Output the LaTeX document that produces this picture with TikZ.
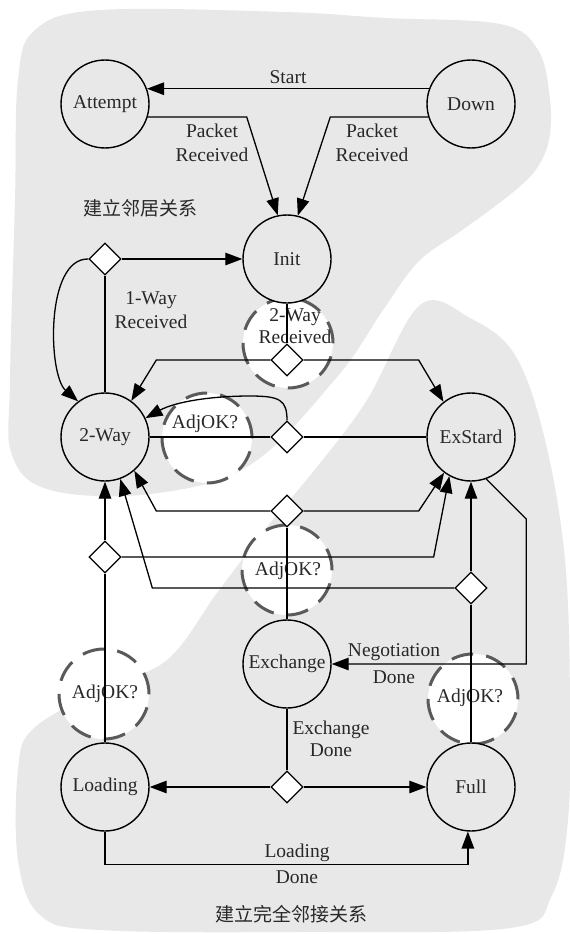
\documentclass[tikz,border=0pt]{standalone}
\usepackage{fontspec}
\setmainfont{Liberation Serif}
\newfontfamily\cjkfont{Noto Sans CJK SC}
\usetikzlibrary{shapes.geometric,arrows.meta}
\definecolor{blob}{RGB}{232,232,232}
\definecolor{txt}{RGB}{40,40,40}
\definecolor{dashc}{RGB}{90,90,90}
\begin{document}
\begin{tikzpicture}[x=1pt,y=-1pt,
  state/.style={circle,draw=black,line width=1.4pt,fill=blob,minimum size=88pt,inner sep=0pt,font=\fontsize{19.5}{24}\selectfont,text=txt},
  dia/.style={diamond,draw=black,line width=1.3pt,fill=white,minimum width=32pt,minimum height=32pt,inner sep=0pt},
  dcirc/.style={circle,draw=dashc,line width=3pt,fill=white,minimum size=90pt,inner sep=0pt,dash pattern=on 22pt off 13.3pt},
  lbl/.style={font=\fontsize{19.5}{24}\selectfont,text=txt,align=center,inner sep=0pt},
  cjk/.style={font=\cjkfont\fontsize{19}{24}\selectfont,text=txt,inner sep=0pt},
  conn/.style={line width=1.3pt,draw=black},
  arr/.style={conn,-{Triangle[length=17pt,width=12.5pt]}},
]
\useasboundingbox (0,0) rectangle (570,934);
\fill[white] (0,0) rectangle (570,934);
% background regions
\fill[blob] plot[smooth cycle,tension=0.6] coordinates {(35,30) (100,10) (285,12) (385,18) (500,24) (538,50) (550,100) (549,140) (537,168) (518,188) (490,210) (458,233) (418,262) (383,310) (337,377) (250,465) (150,494) (50,490) (12,455) (10,380) (15,200) (18,80)};
\fill[blob] plot[smooth cycle,tension=0.6] coordinates {(420,305) (470,318) (515,355) (545,440) (565,560) (570,700) (568,820) (552,895) (510,928) (300,932) (100,930) (40,915) (18,860) (18,770) (33,729) (100,690) (167,660) (217,593) (267,527) (317,467) (367,400)};
% dashed highlight circles
\node[dcirc] (c1) at (288,343) {};
\node[dcirc] (c2) at (207,438) {};
\node[dcirc] (c3) at (287,570) {};
\node[dcirc] (c4) at (104,694) {};
\node[dcirc] (c5) at (473,699) {};
% labels
\node[lbl] (lstart) at (288,77) {Start};
\node[lbl] (lpr1) at (212,143) {Packet\\Received};
\node[lbl] (lpr2) at (372,143) {Packet\\Received};
\node[cjk] (lzone1) at (140,208) {建立邻居关系};
\node[lbl] (l1way) at (151,310) {1-Way\\Received};
\node[lbl] (l2way) at (295,326) {2-Way\\[-2pt]Received};
\node[lbl] (ladj1) at (205,424) {AdjOK?};
\node[lbl] (ladj2) at (288,571) {AdjOK?};
\node[lbl] (ladj3) at (105,694) {AdjOK?};
\node[lbl] (ladj4) at (470,698) {AdjOK?};
\node[lbl] (lneg) at (394,664) {Negotiation\\[3pt]Done};
\node[lbl] (lexd) at (331,739) {Exchange\\[-2pt]Done};
\node[lbl] (lld) at (297,864) {Loading\\[2pt]Done};
\node[cjk] (lzone2) at (291,914) {建立完全邻接关系};
% states
\node[state] (attempt) at (105,104) {Attempt};
\node[state] (down) at (471,104) {Down};
\node[state] (init) at (287,259) {Init};
\node[state] (twoway) at (105,437) {2-Way};
\node[state] (exstart) at (471,437) {ExStard};
\node[state] (exchange) at (287,664) {Exchange};
\node[state] (loading) at (105,787) {Loading};
\node[state] (full) at (471,787) {Full};
% decision diamonds
\node[dia] (d1) at (105,259) {};
\node[dia] (d2) at (287,360) {};
\node[dia] (d3) at (287,437) {};
\node[dia] (d4) at (287,511) {};
\node[dia] (d5) at (105,557) {};
\node[dia] (d6) at (471,588) {};
\node[dia] (d7) at (287,787) {};
% connectors
\draw[arr] (down.160) -- (attempt.20);
\draw[arr] (attempt.-17) -- ++(99,0) -- (init.102);
\draw[arr] (down.197) -- ++(-98,0) -- (init.76);
\draw[arr] (d1.east) -- (init.west);
\draw[arr] (d1.west) .. controls (45,258) and (48,375) .. (twoway.127);
\draw[conn] (twoway.north) -- (d1.south);
\draw[conn] (init.south) -- (d2.north);
\draw[arr] (d2.west) -- ++(-114,0) -- (twoway.54);
\draw[arr] (d2.east) -- ++(115,0) -- (exstart.128);
\draw[conn] (twoway.east) -- (d3.west);
\draw[conn] (d3.east) -- (exstart.west);
\draw[arr] (d3.north) .. controls (287,400) and (280,396) .. (250,396) .. controls (210,396) and (175,402) .. (twoway.25);
\draw[arr] (d4.west) -- ++(-114,0) -- (twoway.-49);
\draw[arr] (d4.east) -- ++(115,0) -- (exstart.-127);
\draw[conn] (exchange.north) -- (d4.south);
\draw[arr] (d5.north) -- (twoway.south);
\draw[conn] (loading.north) -- (d5.south);
\draw[arr] (d5.east) -- ++(312,0) -- (exstart.-119);
\draw[arr] (d6.north) -- (exstart.south);
\draw[conn] (full.north) -- (d6.south);
\draw[arr] (d6.west) -- ++(-302,0) -- (twoway.-70);
\draw[arr] (exstart.-70) -- ++(40,40) |- (exchange.east);
\draw[conn] (exchange.south) -- (d7.north);
\draw[arr] (d7.west) -- (loading.east);
\draw[arr] (d7.east) -- (full.west);
\draw[arr] (loading.south) -- ++(0,33) -| (full.-94);
\end{tikzpicture}
\end{document}
